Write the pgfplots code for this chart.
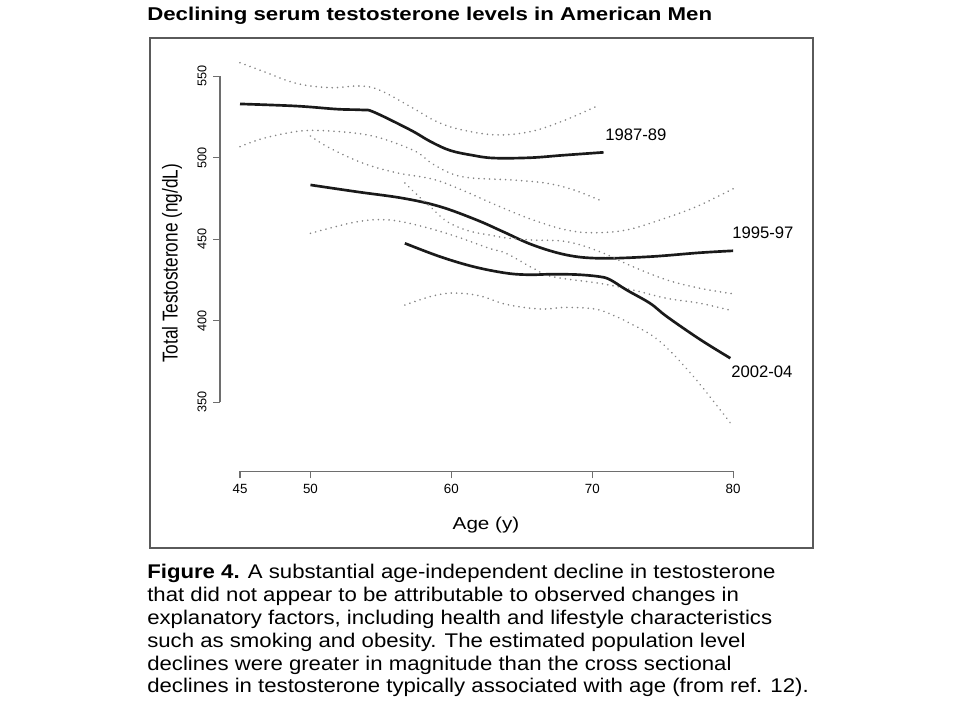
\documentclass[border=0pt]{standalone}
\usepackage{fontspec}
\setmainfont{Liberation Sans}
\usepackage{pgfplots}
\pgfplotsset{compat=1.18}

\definecolor{solidcol}{HTML}{1A1A1A}
\definecolor{dotcol}{HTML}{858585}
\definecolor{axcol}{HTML}{6E6E6E}
\definecolor{framecol}{HTML}{5A5A5A}

\pgfplotsset{
  est/.style={solidcol, line width=2pt, smooth, tension=0.6},
  band/.style={dotcol, line width=1.35pt, line cap=round,
    dash pattern=on 0.01pt off 4pt, smooth, tension=0.6},
}

\begin{document}
% units: 1 = one pixel of the 960x720 reference, y measured upward
\begin{tikzpicture}[x=0.75pt, y=0.75pt]
\path[use as bounding box] (0,0) rectangle (960,720);

% title and frame
\node[anchor=base west, inner sep=0, xscale=1.2,
  font=\bfseries\fontsize{13.9}{16}\selectfont] at (147,699.3)
  {Declining serum testosterone levels in American Men};
\draw[framecol, line width=1.2pt] (150,172) rectangle (813,682);

\begin{axis}[
  at={(165pt,186.375pt)}, anchor=south west,
  scale only axis, width=437.7pt, height=320.9pt,
  xmin=43.58, xmax=85, ymin=307.5, ymax=570,
  clip=false,
  axis x line*=bottom, axis y line*=left,
  axis line style={draw=none},
  xtick={45,50,60,70,80}, ytick={350,400,450,500,550},
  tick align=outside, major tick length=5.25pt,
  tick style={draw=axcol, line width=0.8pt},
  xticklabel style={font=\fontsize{10}{12}\selectfont, anchor=center, yshift=-7.5pt},
  yticklabel style={font=\fontsize{9.5}{11}\selectfont, anchor=center,
    xshift=-8.25pt, rotate=90},
  /pgf/number format/assume math mode=true,
]
% R-style axis lines from first to last tick
\draw[axcol, line width=0.8pt] (axis cs:45,307.5) -- (axis cs:80,307.5);
\draw[axcol, line width=0.8pt] (axis cs:43.58,350) -- (axis cs:43.58,550);

% 1987-89
\addplot[band] coordinates {
  (45,558.3) (46.7,552.8) (49,545.6) (51.4,543) (53.5,544) (54.9,541.5)
  (57.1,531.3) (59,522) (60.8,517) (63.2,514) (65.6,516) (67.9,522.5) (70.5,532.3)
};
\addplot[band] coordinates {
  (45,506.8) (46.7,512) (49.3,516.4) (51.4,516.4) (53.75,514.4) (55.4,510.9)
  (57.5,503.7) (58.8,495.5) (60.8,488.3) (64.4,486.3) (66.8,484.3) (68.7,480.2) (70.8,473)
};
\addplot[est] coordinates {
  (45,533) (49,531.7) (51.9,529.8) (53.7,529.3) (54.5,528) (57.1,517)
  (58.5,510) (59.9,504.5) (61.5,501.5) (63,499.8) (65.6,500) (67.9,501.5) (70.8,503.3)
};

% 1995-97
\addplot[band] coordinates {
  (50,513.3) (51.4,505.8) (53.75,496.6) (56.1,490.8) (58.7,486.8) (60.8,480)
  (63.3,470.5) (65.8,461.8) (68.2,455.6) (70.1,454) (72.4,455.6) (74.8,461.8)
  (77.4,470) (80,481)
};
\addplot[band] coordinates {
  (50,453.6) (53.3,460.7) (55.6,461.8) (58,457.7) (60.4,451.5) (62.7,444.4)
  (63.9,441.3) (65.8,432.2) (67.2,427) (70.55,422.9) (72.9,418.8) (75.3,413.7)
  (77.65,410.7) (80,406)
};
\addplot[est] coordinates {
  (50,483.3) (53.3,479.1) (56.6,475.1) (59.2,470) (61.8,461.8) (63.7,454.5)
  (65.8,446.4) (68.2,440.3) (70.55,438.3) (74.1,439.3) (77.6,441.7) (80,442.9)
};

% 2002-04
\addplot[band] coordinates {
  (56.7,484.5) (57.6,477) (58.5,470) (59.5,462) (60.4,457.7) (61.5,454.5)
  (62.7,452.6) (63.9,450.8) (65.8,449.5) (68.2,448.5) (70.55,442.3) (72.9,433.1)
  (75.3,425) (77.65,419.9) (80,416.5)
};
\addplot[band] coordinates {
  (56.7,409.6) (58,413.5) (59,415.8) (60.2,417) (62,415.3) (63.9,410)
  (66.3,407.2) (68.2,408.2) (70.3,407) (71.7,402.5) (72.45,399.4) (74.7,388)
  (77.2,365.6) (80,335)
};
\addplot[est] coordinates {
  (56.7,447.5) (59.2,439.3) (61.6,433.1) (63.9,429.2) (65.5,428.2) (67,428.5)
  (68.9,428.3) (70.55,427) (71.3,425) (72.45,418.8) (74.1,410.7) (75.3,402.5)
  (77.65,388.5) (79.8,377)
};
\end{axis}

% series labels
\begin{scope}[every node/.style={anchor=west, inner sep=0,
  font=\fontsize{12.5}{14}\selectfont}]
\node at (605,585) {1987-89};
\node at (732,487) {1995-97};
\node at (731,348) {2002-04};
\end{scope}

% axis titles
\node[font=\fontsize{12.9}{15}\selectfont, xscale=1.2] at (486,195) {Age (y)};
\node[font=\fontsize{12.9}{15}\selectfont, xscale=1.25, rotate=90] at (172,456.5)
  {Total Testosterone (ng/dL)};

% caption
\begin{scope}[every node/.style={anchor=base west, inner sep=0, xscale=1.12,
  font=\fontsize{14.85}{17}\selectfont}]
\node at (147,141) {\textbf{Figure 4.} A substantial age-independent decline in testosterone};
\node at (147,118.2) {that did not appear to be attributable to observed changes in};
\node at (147,95.4) {explanatory factors, including health and lifestyle characteristics};
\node at (147,72.6) {such as smoking and obesity. The estimated population level};
\node at (147,49.8) {declines were greater in magnitude than the cross sectional};
\node at (147,27) {declines in testosterone typically associated with age (from ref. 12).};
\end{scope}
\end{tikzpicture}
\end{document}
